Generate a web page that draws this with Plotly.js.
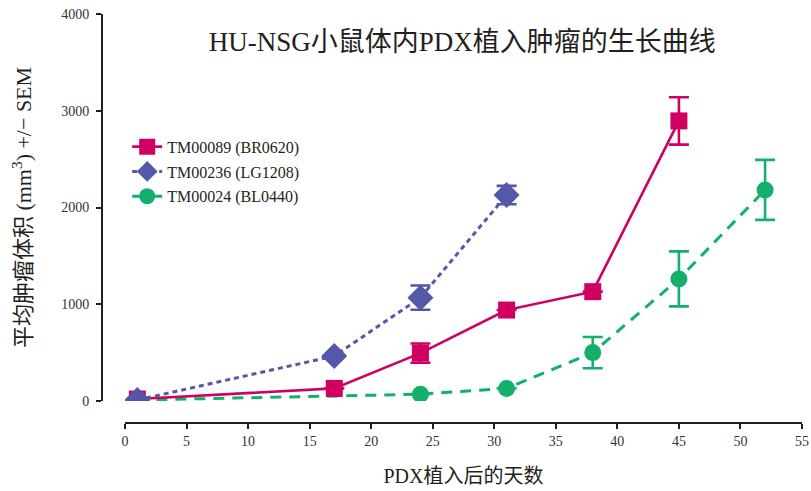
<!DOCTYPE html>
<html>
<head>
<meta charset="utf-8">
<script src="https://cdn.plot.ly/plotly-3.0.1.min.js"></script>
<style>html,body{margin:0;padding:0;background:#fff;}#chart{width:811px;height:491px;}</style>
</head>
<body>
<div id="chart"></div>
<script>
// Data
const seriesNames = ["TM00089 (BR0620)", "TM00236 (LG1208)", "TM00024 (BL0440)"];
const daysRed = [1, 17, 24, 31, 38, 45];
const volRed = [20, 130, 495, 940, 1130, 2895];
const semRed = [0, 0, 100, 0, 0, 245];
const daysBlue = [1, 17, 24, 31];
const volBlue = [10, 465, 1068, 2128];
const semBlue = [0, 0, 125, 95];
const daysGreen = [1, 24, 31, 38, 45, 52];
const volGreen = [10, 70, 130, 500, 1262, 2182];
const semGreen = [0, 0, 0, 162, 284, 310];
const xTicks = [0, 5, 10, 15, 20, 25, 30, 35, 40, 45, 50, 55];
const yTicks = [0, 1000, 2000, 3000, 4000];

const RED = "#cf0062", BLUE = "#5558a8", GREEN = "#14b06b";
const FONT = "'Liberation Serif', 'Noto Sans CJK SC', serif";
const AXC = "#231f20";

const traces = [
  {x: daysGreen, y: volGreen, name: seriesNames[2], legendrank: 3, legendgroup: "g",
   mode: "lines+markers", line: {color: GREEN, width: 3, dash: "11px,8px"},
   marker: {symbol: "circle", size: 17, color: GREEN},
   error_y: {type: "data", array: semGreen, visible: true, color: GREEN, thickness: 2.6, width: 10}},
  {x: daysRed, y: volRed, name: seriesNames[0], legendrank: 1, legendgroup: "r",
   mode: "lines+markers", line: {color: RED, width: 2.6},
   marker: {symbol: "square", size: 17, color: RED},
   error_y: {type: "data", array: semRed, visible: true, color: RED, thickness: 2.6, width: 10}},
  {x: daysBlue, y: volBlue, name: seriesNames[1], legendrank: 2, legendgroup: "b",
   mode: "lines+markers", line: {color: BLUE, width: 3, dash: "5px,4px"},
   marker: {symbol: "diamond", size: 20, color: BLUE},
   error_y: {type: "data", array: semBlue, visible: true, color: BLUE, thickness: 2.6, width: 10}}
];

const layout = {
  width: 811, height: 491,
  margin: {l: 102, r: 9, t: 14, b: 68},
  paper_bgcolor: "#fff", plot_bgcolor: "#fff",
  font: {family: FONT, color: AXC, size: 14},
  title: {text: "HU-NSG小鼠体内PDX植入肿瘤的生长曲线", font: {family: FONT, size: 27, color: AXC},
          x: 0.57, xanchor: "center", y: 0.915, yanchor: "middle"},
  showlegend: true,
  legend: {x: 0.036, y: 0.717, xanchor: "left", yanchor: "top", tracegroupgap: 1,
           font: {family: FONT, size: 16, color: AXC}, bgcolor: "rgba(0,0,0,0)"},
  xaxis: {range: [0, 55], domain: [0.0329, 1], anchor: "free", position: 0,
          tickvals: xTicks, ticktext: xTicks.map(String),
          showgrid: false, zeroline: false, showline: true, linecolor: AXC, linewidth: 2,
          ticks: "outside", ticklen: 5, tickwidth: 2, tickcolor: AXC,
          tickfont: {family: FONT, size: 14, color: "#333"},
          title: {text: "PDX植入后的天数", font: {family: FONT, size: 20, color: AXC}, standoff: 20}},
  yaxis: {range: [0, 4000], domain: [0.0538, 1], anchor: "free", position: 0,
          tickvals: yTicks, ticktext: yTicks.map(String),
          showgrid: false, zeroline: false, showline: true, linecolor: AXC, linewidth: 2,
          ticks: "outside", ticklen: 5, tickwidth: 2, tickcolor: AXC,
          tickfont: {family: FONT, size: 14, color: "#333"}, ticklabelstandoff: 4,
          title: {text: "平均肿瘤体积 (mm<sup>3</sup>) +/− SEM", font: {family: FONT, size: 22, color: AXC}, standoff: 22}}
};

Plotly.newPlot("chart", traces, layout, {displayModeBar: false, staticPlot: true});
</script>
</body>
</html>
